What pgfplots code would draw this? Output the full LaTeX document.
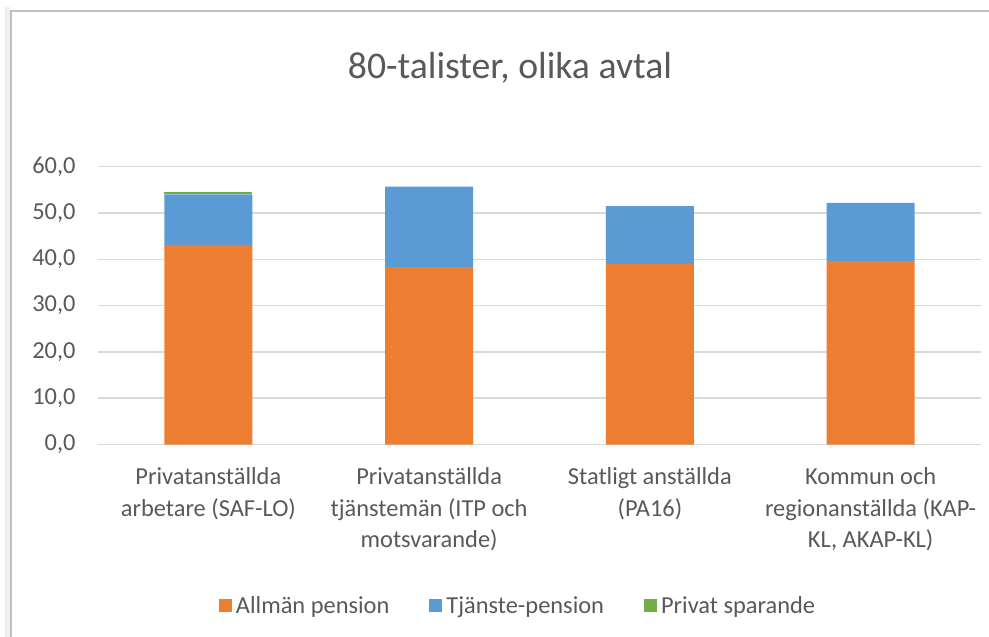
\documentclass[border=0pt]{standalone}
\usepackage{pgfplots}
\pgfplotsset{compat=1.18}
\usepackage{fontspec}
\setmainfont{Carlito}
\definecolor{cOrange}{HTML}{ED7D31}
\definecolor{cBlue}{HTML}{5B9BD5}
\definecolor{cGreen}{HTML}{70AD47}
\definecolor{cGrid}{HTML}{D9D9D9}
\definecolor{cText}{HTML}{595959}
\definecolor{cBorder}{HTML}{BFBFBF}
\begin{document}
\begin{tikzpicture}
\useasboundingbox (0,0) rectangle (989bp,637bp);
\fill[white] (0,0) rectangle (989bp,637bp);
\fill[black!6] (5bp,0) rectangle (10bp,630bp);
\draw[cBorder, line width=1.5bp] (10.75bp,0) -- (10.75bp,626bp) -- (989bp,626bp);
\node[anchor=base, text=cText, font=\fontsize{37.7bp}{45bp}\selectfont] at (510bp,558bp) {80-talister, olika avtal};
\begin{axis}[
  at={(98bp,192.5bp)}, anchor=south west,
  scale only axis, width=883bp, height=277.8bp,
  ybar stacked, bar width=88bp,
  xmin=-0.5, xmax=3.5, ymin=0, ymax=60,
  xtick={0,1,2,3},
  xticklabels={{Privatanställda\\arbetare (SAF-LO)},{Privatanställda\\tjänstemän (ITP och\\motsvarande)},{Statligt anställda\\(PA16)},{Kommun och\\regionanställda (KAP-\\KL, AKAP-KL)}},
  ytick={0,10,20,30,40,50,60},
  axis line style={draw=none},
  major tick length=0pt,
  ymajorgrids, grid style={cGrid, line width=1.5bp},
  /pgf/number format/.cd, fixed, fixed zerofill, precision=1, use comma, assume math mode=true,
  /pgfplots/.cd,
  yticklabel style={text=cText, font=\fontsize{24.4bp}{29bp}\selectfont, xshift=-19bp},
  xticklabel style={text=cText, align=center, font=\fontsize{24.4bp}{31.5bp}\selectfont, yshift=-20bp},
  legend columns=3,
  legend style={at={(0.4757,-0.581)}, anchor=center, draw=none, fill=none,
    font=\fontsize{24.4bp}{29bp}\selectfont, text=cText,
    /tikz/every even column/.append style={column sep=38bp},
    /tikz/every odd column/.append style={column sep=2bp}},
  legend image code/.code={\fill[#1] (0bp,-6.5bp) rectangle (13bp,6.5bp);},
  legend cell align=left,
]
\addplot[fill=cOrange, draw=none] coordinates {(0,43.1) (1,38.3) (2,39.0) (3,39.6)};
\addplot[fill=cBlue, draw=none] coordinates {(0,10.9) (1,17.4) (2,12.5) (3,12.6)};
\addplot[fill=cGreen, draw=none] coordinates {(0,0.45) (1,0) (2,0) (3,0)};
\legend{Allmän pension,Tjänste-pension,Privat sparande}
\end{axis}
\end{tikzpicture}
\end{document}
